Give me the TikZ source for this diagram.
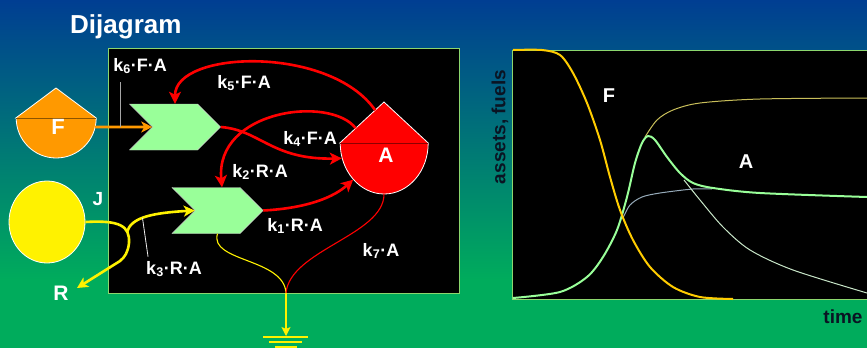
\documentclass[tikz,border=0pt]{standalone}
\usepackage{fontspec}
\setmainfont{Liberation Sans}
\usetikzlibrary{shapes.symbols, shapes.geometric, arrows.meta, calc}
\definecolor{topblue}{RGB}{0,62,146}
\definecolor{midteal}{RGB}{0,128,122}
\definecolor{botgreen}{RGB}{0,172,92}
\definecolor{chevgreen}{RGB}{153,255,153}
\definecolor{forange}{RGB}{255,153,0}
\definecolor{boxline}{RGB}{140,215,110}
\definecolor{fgold}{RGB}{255,204,0}
\definecolor{olive}{RGB}{200,190,90}
\definecolor{steel}{RGB}{150,170,185}
\definecolor{palegreen}{RGB}{200,230,200}
\definecolor{darkink}{RGB}{10,20,35}
\newcommand{\kk}[1]{k\textsubscript{#1}}

\begin{document}
\begin{tikzpicture}[
  x=1pt, y=-1pt,
  every node/.style={inner sep=0pt},
  lbl/.style={text=white, font=\bfseries\fontsize{18}{18}\selectfont, anchor=base},
  biglbl/.style={lbl, font=\bfseries\fontsize{#1}{#1}\selectfont},
  axlbl/.style={text=darkink, font=\bfseries\fontsize{19}{19}\selectfont},
  chev/.style={signal, signal from=west, signal to=east, fill=chevgreen, draw=gray!40,
    line width=0.4pt, minimum width=91pt, minimum height=46pt},
  drop/.style={draw=white, line width=0.8pt},
  redarr/.style={red, line width=2.6pt, -{Stealth[length=12pt, width=12pt, inset=3pt]}},
  redthin/.style={red, line width=1.1pt},
  yelarr/.style={yellow, line width=2.6pt, -{Stealth[length=11pt, width=11pt, inset=3pt]}},
  yelthin/.style={yellow, line width=1.1pt},
  orarr/.style={forange, line width=2.6pt, -{Stealth[length=11pt, width=11pt, inset=3pt]}},
  leader/.style={line width=0.8pt},
]
\useasboundingbox (0,0) rectangle (867,348);

%% background
\shade[top color=topblue, middle color=midteal, bottom color=botgreen] (0,0) rectangle (867,280);
\fill[botgreen] (0,279) rectangle (867,348);

\node[lbl, font=\bfseries\fontsize{26}{26}\selectfont, anchor=base west] (title) at (70,33) {Dijagram};

%% left panel
\draw[boxline, fill=black, line width=1pt] (108,48) rectangle (459,293);

%% pools
\node[circle, minimum size=80pt] (F) at (56,118) {};
\filldraw[drop, fill=forange] (F.west) -- ($(F.center)+(0,-30)$) -- (F.east)
  arc[start angle=0, end angle=180, radius=40] -- cycle;
\draw[forange!55!black, line width=0.5pt] (F.west) -- (F.east);
\node[biglbl=22] (Flbl) at (58,134) {F};

\node[ellipse, minimum width=88pt, minimum height=102pt] (A) at (384,143) {};
\coordinate (Atop) at ($(A.center)+(0,-41)$);
\filldraw[drop, fill=red] (A.west) -- (Atop) -- (A.east)
  arc[start angle=0, end angle=180, x radius=44, y radius=51] -- cycle;
\draw[red!55!black, line width=0.5pt] (A.west) -- (A.east);
\node[biglbl=21] (Albl) at (386,162) {A};

\node[ellipse, minimum width=76pt, minimum height=82pt, fill=yellow, draw=white, line width=0.8pt] (J) at (47,222) {};
\node[biglbl=19] (Jlbl) at (98,205) {J};
\node[biglbl=21] (R) at (61,300) {R};
\coordinate (Rin) at (77,288);

%% processes
\node[chev] (ch1) at (175,127) {};
\node[chev] (ch2) at (217.5,210.5) {};

%% flows
\draw[orarr] (F.-13) -- (ch1.west) coordinate[pos=0.45] (k6foot);
\draw[redarr] (ch1.east) .. controls (260,130) and (272,160) .. (A.200);
\draw[redarr] ($(A.west)!0.8!(Atop)$) .. controls (330,45) and (175,50) .. (ch1.north);
\draw[redarr] ($(A.west)!0.36!(Atop)$) .. controls (330,95) and (215,110) .. ($(ch2.north)!0.2!(ch2.north east)$);
\draw[redarr] (ch2.east) .. controls (310,208) and (335,196) .. (A.230);

\coordinate (branch) at (127,232);
\draw[yelarr] (J.east) .. controls (120,220) and (130,226) .. (129,243)
  .. controls (128,252) and (125,257) .. (120,261) -- (Rin);
\draw[yelarr] (branch) .. controls (131,218) and (150,213) .. (ch2.west) coordinate[pos=0.45] (k3foot);

\coordinate (sink) at (286,293);
\coordinate (earth) at (286,336);
\draw[yelthin] (ch2.south) .. controls (209,262) and (284,258) .. (sink);
\draw[redthin] (A.south) .. controls (384,235) and (290,250) .. (sink);
\draw[yelthin, -{Stealth[length=9pt, width=9pt, inset=2pt]}] (sink) -- (earth);
\draw[yellow, line width=1.8pt] ($(earth)+(-23,1)$) -- ++(45,0)
  ($(earth)+(-17,6)$) -- ++(33,0) ($(earth)+(-11,11)$) -- ++(22,0);

%% rates
\node[lbl] (k6) at (140,71) {\kk{6}·F·A};
\node[lbl] (k5) at (244,88) {\kk{5}·F·A};
\node[lbl] (k4) at (310,144) {\kk{4}·F·A};
\node[lbl] (k2) at (260,177) {\kk{2}·R·A};
\node[lbl] (k1) at (295,231) {\kk{1}·R·A};
\node[lbl] (k3) at (174,274) {\kk{3}·R·A};
\node[lbl] (k7) at (381,256) {\kk{7}·A};
\draw[leader, gray!70] (k6foot) -- ($(k6foot |- k6.south)+(0,8)$);
\draw[leader, white!85!gray] (k3foot) -- ($(k3.north west)+(2,-4)$);

%% right panel
\draw[boxline, fill=black, line width=1pt] (512,50) rectangle (880,299);
\draw[olive, line width=1pt] plot[smooth] coordinates {(645,137) (657,120) (673,110) (700,103) (760,99) (867,98)};
\draw[steel, line width=1pt] plot[smooth] coordinates {(623,218) (630,205) (642,197) (660,193) (693,189) (712,189)};
\draw[palegreen, line width=1pt] plot[smooth] coordinates {(684,180) (700,200) (723,227) (750,250) (793,270) (867,293)};
\draw[chevgreen, line width=2pt] plot[smooth] coordinates {(513,298) (560,292) (587,277) (603,257) (617,230) (627,197) (635,163) (642,143) (648,136) (655,140) (667,157) (680,173) (693,183) (713,188) (760,193) (867,197)};
\draw[fgold, line width=2pt] plot[smooth] coordinates {(513,50) (542,50) (560,55) (573,73) (587,103) (600,140) (610,177) (620,210) (633,240) (650,267) (673,287) (700,297) (733,299)};
\node[biglbl=20] (Fcurve) at (609,102) {F};
\node[biglbl=20] (Acurve) at (746,168) {A};
\node[axlbl, rotate=90] (ylab) at (500,127) {assets, fuels};
\node[axlbl, anchor=base] (time) at (843,323) {time};

\end{tikzpicture}
\end{document}
